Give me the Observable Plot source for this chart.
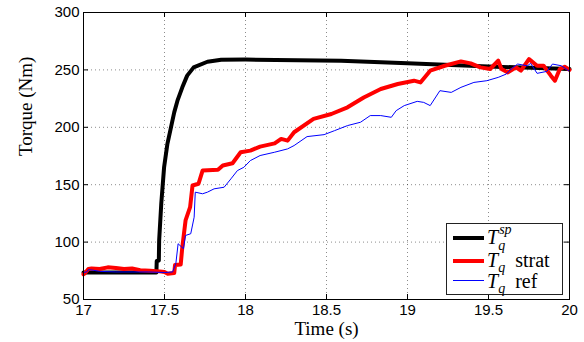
<!DOCTYPE html>
<html><head><meta charset="utf-8">
<script src="https://cdn.jsdelivr.net/npm/d3@7"></script>
<script src="https://cdn.jsdelivr.net/npm/@observablehq/plot@0.6"></script>
<style>
body{margin:0;background:#fff;}
#wrap{position:relative;width:584px;height:342px;overflow:hidden;}
#legend{position:absolute;left:446px;top:223px;width:115px;height:70px;border:1px solid #222;background:#fff;font-family:"Liberation Serif","Times New Roman",serif;font-size:20px;color:#000;}
.row{position:absolute;left:0;width:115px;height:22px;}
.swatch{position:absolute;left:6px;width:31px;}
.lab{position:absolute;left:40px;white-space:nowrap;line-height:20px;}
.lab i{font-style:italic;}
.sub{font-size:14px;font-style:italic;position:relative;top:5px;}
.stack{display:inline-block;position:relative;width:18px;height:20px;vertical-align:top;}
.stack .s1{position:absolute;left:1px;top:-7px;font-size:14px;font-style:italic;}
.stack .s2{position:absolute;left:0px;top:9px;font-size:14px;font-style:italic;}
</style></head><body>
<div id="wrap"></div>
<script>
const xTicks = [17, 17.5, 18, 18.5, 19, 19.5, 20];
const yTicks = [50, 100, 150, 200, 250, 300];

const spTime   = [17, 17.45, 17.452, 17.465, 17.467, 17.48, 17.4975, 17.518, 17.54, 17.56, 17.58, 17.61, 17.64, 17.68, 17.765, 17.85, 18.0, 18.59, 19.0, 19.5, 20];
const spTorque = [73.5, 73.5, 83.5, 84, 101.5, 133.4, 165.2, 185.6, 200, 213, 223.2, 234.8, 245, 252.2, 257.1, 258.9, 259, 258, 255.7, 253, 250.8];

const stratTime   = [17, 17.01, 17.03, 17.05, 17.1, 17.15, 17.2, 17.25, 17.3, 17.35, 17.41, 17.47, 17.5, 17.52, 17.56, 17.565, 17.6, 17.61, 17.63, 17.658, 17.673, 17.71, 17.735, 17.83, 17.86, 17.92, 17.97, 18.03, 18.09, 18.18, 18.22, 18.26, 18.3, 18.42, 18.53, 18.63, 18.73, 18.835, 18.94, 19.04, 19.08, 19.14, 19.23, 19.33, 19.39, 19.45, 19.51, 19.56, 19.58, 19.62, 19.67, 19.7, 19.75, 19.8, 19.84, 19.885, 19.91, 19.94, 19.97, 20];
const stratTorque = [72, 73, 76.5, 77, 76.5, 78, 77.5, 76.5, 77, 75.5, 75, 74.5, 74, 72.5, 73, 80, 80.5, 95.6, 118.9, 130.4, 149.3, 150.8, 162.3, 163, 166.7, 168.7, 178.3, 179.7, 183.2, 186, 189.9, 188.4, 195.7, 207.3, 211.6, 217.4, 226, 233.4, 237.7, 240.6, 239.1, 249.3, 253.6, 257.4, 255.7, 252.2, 250.8, 258, 250.8, 247.8, 252.2, 249.3, 259.4, 253.6, 253.6, 245, 240.6, 250.8, 252.8, 250];

const refTime   = [17, 17.02, 17.03, 17.06, 17.1, 17.2, 17.3, 17.4, 17.5, 17.55, 17.57, 17.584, 17.617, 17.63, 17.662, 17.683, 17.69, 17.735, 17.765, 17.806, 17.868, 17.91, 17.95, 17.99, 18.03, 18.09, 18.18, 18.26, 18.3, 18.38, 18.485, 18.55, 18.63, 18.71, 18.77, 18.835, 18.9, 18.93, 18.98, 19.06, 19.1, 19.14, 19.2, 19.27, 19.33, 19.41, 19.49, 19.56, 19.61, 19.64, 19.68, 19.74, 19.76, 19.8, 19.86, 19.895, 19.95, 20];
const refTorque = [73.5, 74, 76, 75.5, 74.5, 74, 74, 74, 73.5, 74, 81.2, 98.6, 94.2, 105.8, 107.3, 121.7, 143.5, 142.1, 143.5, 146.4, 147.8, 155.1, 162.3, 165.2, 171, 175.4, 178.3, 181.2, 184.1, 191.9, 193.6, 197.1, 201.5, 204.4, 210.2, 210.2, 208.7, 214.5, 218.9, 222.6, 221.7, 218.9, 231.9, 230.4, 234.8, 239.1, 240.6, 243.5, 246.4, 250.8, 255.1, 253.6, 255.7, 247, 248.7, 255.1, 253.6, 248.7];

const sp = spTime.map((t, i) => ({t, v: spTorque[i]}));
const strat = stratTime.map((t, i) => ({t, v: stratTorque[i]}));
const ref = refTime.map((t, i) => ({t, v: refTorque[i]}));

const W = 584, H = 342, mL = 83, mR = 15, mT = 12, mB = 43;
const innerW = W - mL - mR, innerH = H - mT - mB;
const grid = {stroke: "#000", strokeOpacity: 0.45, strokeDasharray: "1,3"};
const serif = '"Liberation Serif","Times New Roman",serif';

const chart = Plot.plot({
  width: W, height: H,
  marginLeft: mL, marginRight: mR, marginTop: mT, marginBottom: mB,
  x: {domain: [17, 20], ticks: xTicks, label: null},
  y: {domain: [50, 300], ticks: yTicks, label: null},
  style: {fontFamily: '"Liberation Sans", Arial, sans-serif', fontSize: "15px", color: "#000", background: "#fff", overflow: "visible"},
  marks: [
    Plot.gridX(xTicks.slice(1, -1), grid),
    Plot.gridY(yTicks.slice(1, -1), grid),
    Plot.axisX(xTicks, {tickSize: 0, tickPadding: 5, fontSize: 15, tickFormat: d => String(d)}),
    Plot.axisY(yTicks, {tickSize: 0, tickPadding: 4, fontSize: 15, tickFormat: d => String(d)}),
    Plot.tickX(xTicks, {x: d => d, insetTop: innerH - 5, stroke: "#000"}),
    Plot.tickX(xTicks, {x: d => d, insetBottom: innerH - 5, stroke: "#000"}),
    Plot.tickY(yTicks, {y: d => d, insetRight: innerW - 5, stroke: "#000"}),
    Plot.tickY(yTicks, {y: d => d, insetLeft: innerW - 5, stroke: "#000"}),
    Plot.line(sp, {x: "t", y: "v", stroke: "#000", strokeWidth: 4}),
    Plot.line(strat, {x: "t", y: "v", stroke: "#ff0000", strokeWidth: 4}),
    Plot.line(ref, {x: "t", y: "v", stroke: "#0000ff", strokeWidth: 1}),
    Plot.frame({stroke: "#000"}),
    Plot.text(["Time (s)"], {frameAnchor: "bottom", lineAnchor: "middle", dy: 29, fontFamily: serif, fontSize: 19, fill: "#000"}),
    Plot.text(["Torque (Nm)"], {frameAnchor: "left", lineAnchor: "middle", dx: -58, rotate: -90, fontFamily: serif, fontSize: 19, fill: "#000"})
  ]
});
const wrap = document.getElementById("wrap");
wrap.appendChild(chart);

const legend = document.createElement("div");
legend.id = "legend";
legend.innerHTML = `
  <div class="row" style="top:1px"><div class="swatch" style="top:11px;border-top:4px solid #000"></div>
    <div class="lab" style="top:2px"><i>T</i><span class="stack"><span class="s1">sp</span><span class="s2">q</span></span></div></div>
  <div class="row" style="top:25px"><div class="swatch" style="top:10px;border-top:4px solid #ff0000"></div>
    <div class="lab" style="top:1px"><i>T</i><span class="sub">q</span>&nbsp; strat</div></div>
  <div class="row" style="top:46px"><div class="swatch" style="top:10px;border-top:1.5px solid #0000ff"></div>
    <div class="lab" style="top:1px"><i>T</i><span class="sub">q</span>&nbsp; ref</div></div>`;
wrap.appendChild(legend);
</script>
</body></html>
